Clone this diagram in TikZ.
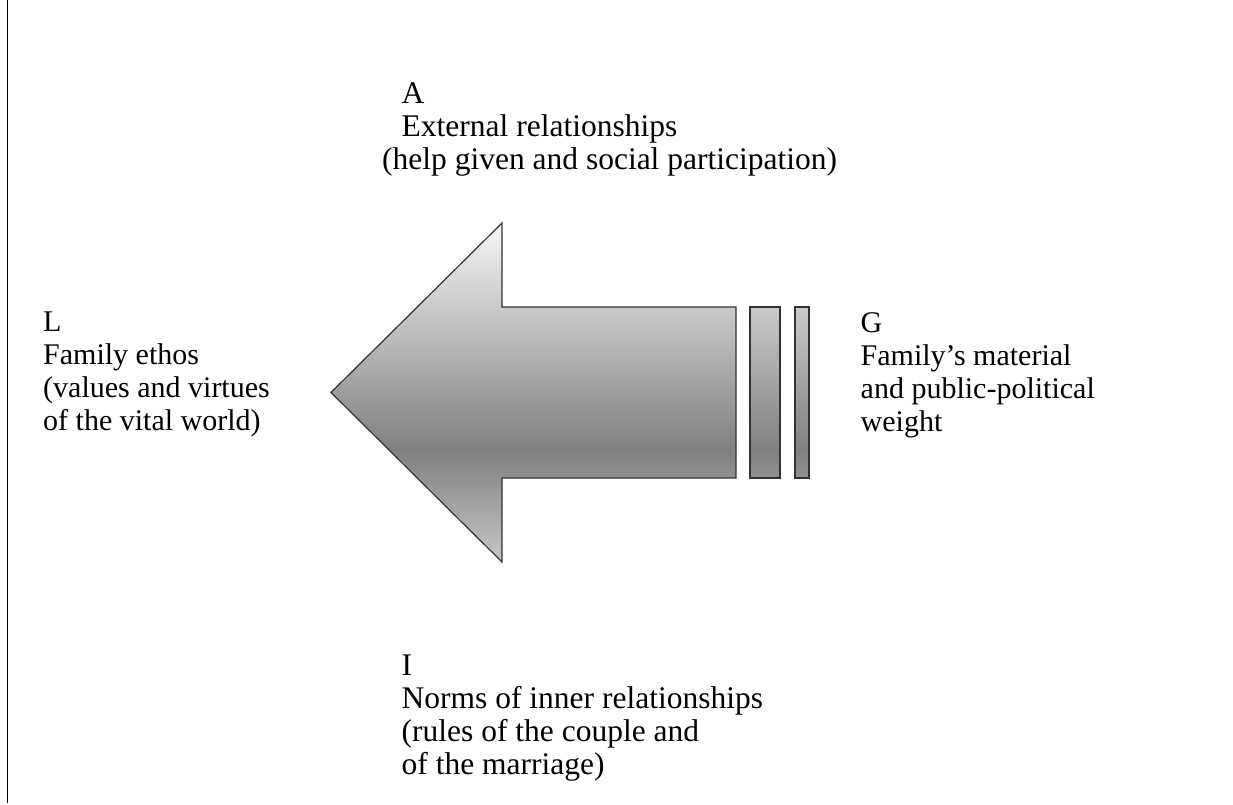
\documentclass[tikz,border=0pt]{standalone}
\usepackage{fontspec}
\setmainfont{Liberation Serif}
\definecolor{shadelow}{gray}{0.78}
\definecolor{shadedark}{gray}{0.5}
\definecolor{shadetop}{gray}{0.965}
\definecolor{edgegray}{gray}{0.2}
% vertical gradient: light top, dark band in the lower third, lighter bottom
\pgfdeclareverticalshading{arrowbody}{100bp}{color(0bp)=(shadelow); color(25bp)=(shadelow); color(41.5bp)=(shadedark); color(75bp)=(shadetop); color(100bp)=(shadetop)}
\begin{document}
\begin{tikzpicture}[x=1pt,y=-1pt,
  blocktext/.style={anchor=north west, inner sep=0pt, align=left,
    font=\fontsize{31.5}{33}\selectfont},
  sidetext/.style={anchor=north west, inner sep=0pt, align=left,
    font=\fontsize{30}{33}\selectfont},
  outline/.style={draw=edgegray, line width=1.2pt, line join=miter}]
\useasboundingbox (0,0) rectangle (1233,805);

% left rule of the frame
\draw[line width=1.5pt] (7.5,0) -- (7.5,803);

% corner points of the arrow and its two trailing bars
\coordinate (tip)   at (331,392.5);
\coordinate (headT) at (502,223);
\coordinate (headB) at (502,562);
\coordinate (shT)   at (502,307);
\coordinate (shB)   at (502,478);
\coordinate (endT)  at (736,307);
\coordinate (endB)  at (736,478);
\coordinate (barAT) at (750,307);
\coordinate (barAB) at (780,478);
\coordinate (barBT) at (795,307);
\coordinate (barBB) at (809,478);

% one shaded path so arrow and bars share the same gradient
\shade[shading=arrowbody]
  (tip) -- (headT) -- (shT) -- (endT) -- (endB) -- (shB) -- (headB) -- cycle
  (barAT) rectangle (barAB)
  (barBT) rectangle (barBB);
\draw[outline] (tip) -- (headT) -- (shT) -- (endT) -- (endB) -- (shB) -- (headB) -- cycle;
\draw[outline] (barAT) rectangle (barAB);
\draw[outline] (barBT) rectangle (barBB);

% the four AGIL labels
\node[blocktext] (A) at (382,83)
  {\hspace*{19.5pt}A\\\hspace*{19.5pt}External relationships\\(help given and social participation)};
\node[sidetext] (L) at (43,312)
  {L\\Family ethos\\(values and virtues\\of the vital world)};
\node[sidetext] (G) at (860.5,312)
  {G\\Family’s material\\and public-political\\weight};
\node[blocktext] (I) at (401.5,655)
  {I\\Norms of inner relationships\\(rules of the couple and\\of the marriage)};
\end{tikzpicture}
\end{document}
